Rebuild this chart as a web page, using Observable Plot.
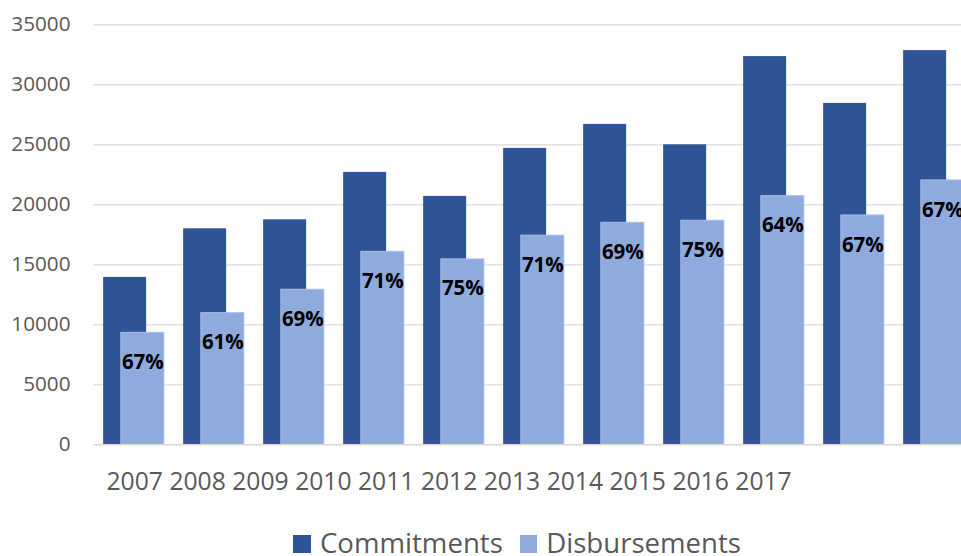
<!DOCTYPE html>
<html>
<head>
<meta charset="utf-8">
<script src="https://cdn.jsdelivr.net/npm/d3@7"></script>
<script src="https://cdn.jsdelivr.net/npm/@observablehq/plot@0.6"></script>
<style>
  html, body { margin: 0; padding: 0; background: white; overflow: hidden; }
  #chart svg { display: block; }
  #legend {
    height: 46px; box-sizing: border-box; padding-top: 18.5px; padding-left: 293.3px;
    font-family: 'Open Sans', sans-serif; font-size: 27.6px; line-height: 27.6px;
    color: #595959; white-space: nowrap;
  }
  #legend .sw { display: inline-block; width: 17.7px; height: 17.7px; margin-right: 9px; }
  #legend .lab { margin-right: 16.7px; }
</style>
</head>
<body>
<div id="chart"></div>
<div id="legend"></div>
<script>
const years = ["2007","2008","2009","2010","2011","2012","2013","2014","2015","2016","2017"];
const commitments = [13950, 18000, 18750, 22700, 20700, 24700, 26700, 25000, 32350, 28450, 32850];
const disbursements = [9330, 10970, 12920, 16080, 15450, 17430, 18500, 18670, 20720, 19110, 22030];
const shareLabels = ["67%","61%","69%","71%","75%","71%","69%","75%","64%","67%","67%"];
const yTicks = [0, 5000, 10000, 15000, 20000, 25000, 30000, 35000];
const seriesNames = ["Commitments", "Disbursements"];
const seriesColors = ["#2F5597", "#8FAADC"];

const rows = years.map((year, i) => ({
  year,
  commitments: commitments[i],
  disbursements: disbursements[i],
  share: shareLabels[i]
}));

const chart = Plot.plot({
  width: 961,
  height: 510,
  marginLeft: 93.3,
  marginRight: 0,
  marginTop: 24.3,
  marginBottom: 65.7,
  style: { fontFamily: "'Open Sans', sans-serif", background: "white" },
  x: { domain: years, range: [93.5, 973.5], paddingInner: 0.4625, paddingOuter: 0.23125, axis: null },
  y: { domain: [0, 35000], axis: null },
  marks: [
    Plot.ruleY(yTicks.slice(1), { stroke: "#D9D9D9", strokeWidth: 1.3 }),
    Plot.axisY(yTicks, { tickSize: 0, tickPadding: 23.3, fontSize: 20.7, fill: "#595959", label: null, tickFormat: d => String(d) }),
    Plot.barY(rows, { x: "year", y: "commitments", fill: seriesColors[0], dx: -8.85 }),
    Plot.barY(rows, { x: "year", y: "disbursements", fill: seriesColors[1], dx: 8.85, stroke: "#A9BEE6", strokeWidth: 1 }),
    Plot.ruleY([0], { stroke: "#D9D9D9", strokeWidth: 1.6 }),
    Plot.text(rows, { x: "year", y: "disbursements", text: "share", dx: 8.85, dy: 29.5, fontWeight: "bold", fontSize: 20.5, fill: "black" }),
    Plot.text([years.join(" ")], { x: () => years[0], text: d => d, frameAnchor: "bottom", textAnchor: "start", dx: -27.5, dy: 45, fontSize: 24.7, fill: "#595959" })
  ]
});
document.getElementById("chart").appendChild(chart);

const legend = document.getElementById("legend");
seriesNames.forEach((name, i) => {
  const sw = document.createElement("span");
  sw.className = "sw";
  sw.style.background = seriesColors[i];
  const lab = document.createElement("span");
  lab.className = "lab";
  lab.textContent = name;
  legend.appendChild(sw);
  legend.appendChild(lab);
});
</script>
</body>
</html>
